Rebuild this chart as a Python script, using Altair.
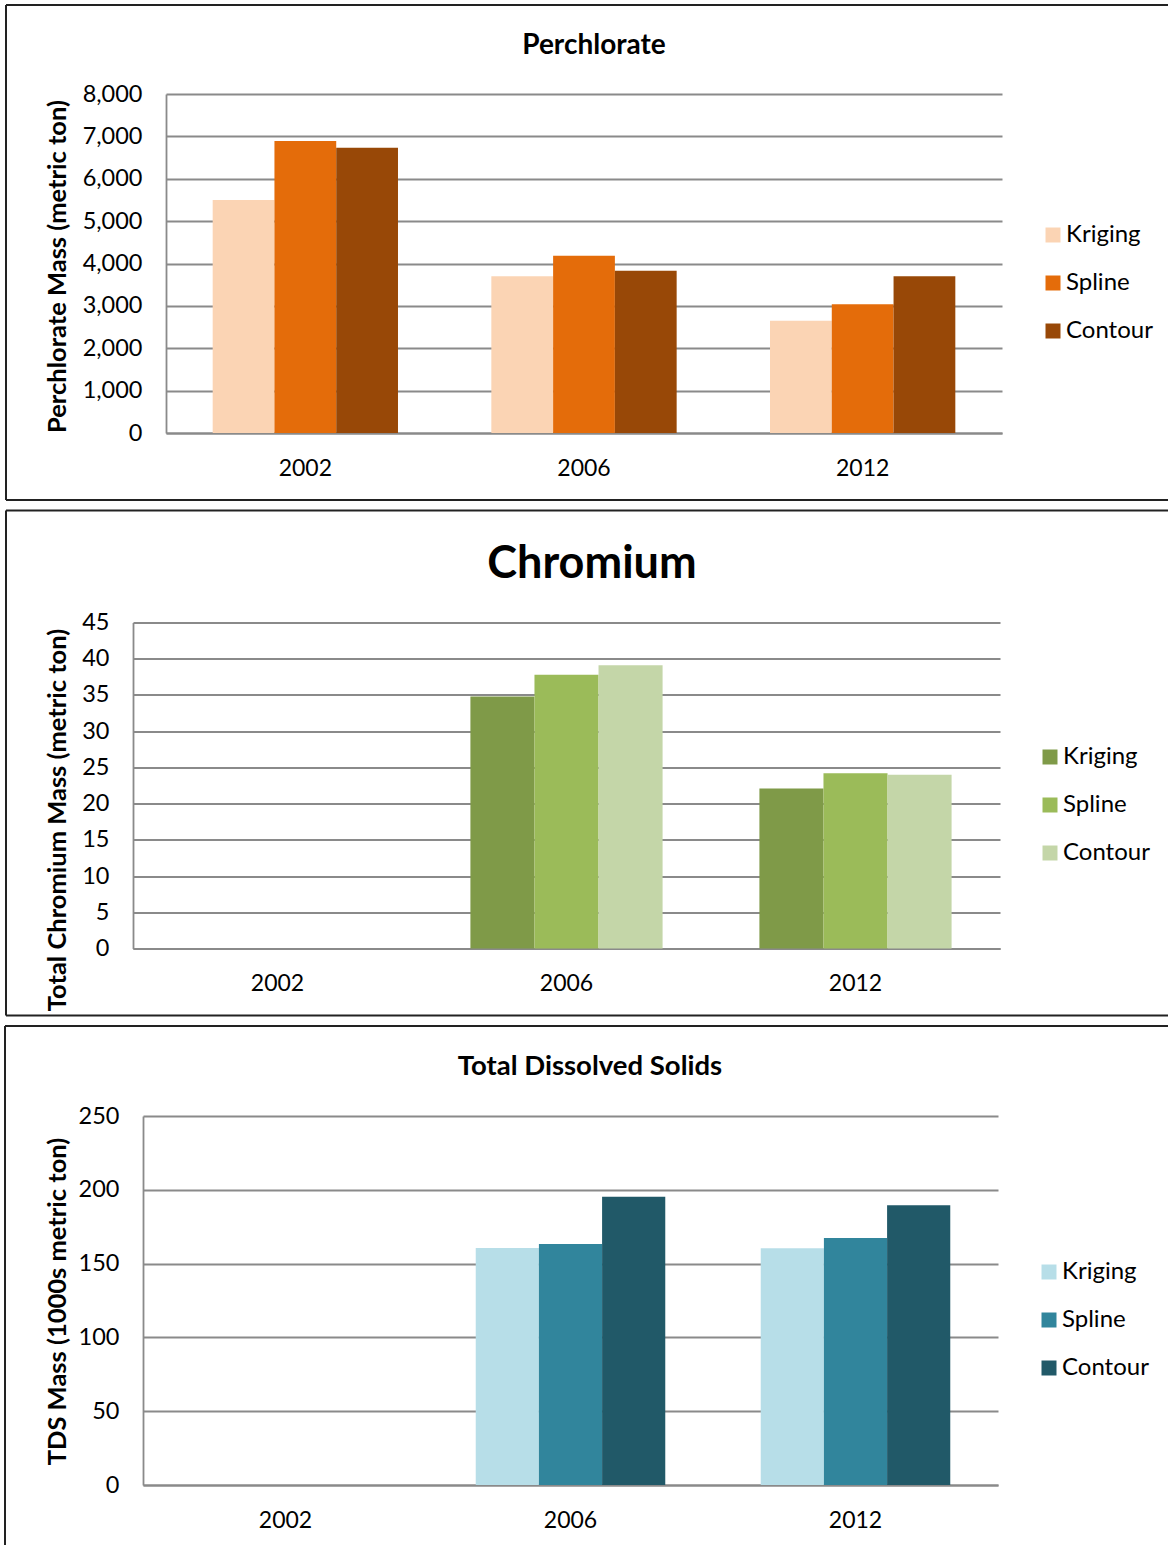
import altair as alt
import pandas as pd

# ---------------- data ----------------
years = ["2002", "2006", "2012"]
methods = ["Kriging", "Spline", "Contour"]

perchlorate_kriging = [5500, 3700, 2650]
perchlorate_spline = [6890, 4180, 3040]
perchlorate_contour = [6730, 3830, 3700]

chromium_kriging = [None, 34.8, 22.1]
chromium_spline = [None, 37.8, 24.2]
chromium_contour = [None, 39.1, 24.0]

tds_kriging = [None, 160.6, 160.4]
tds_spline = [None, 163.3, 167.3]
tds_contour = [None, 195.3, 189.5]

perchlorate_ticks = [0, 1000, 2000, 3000, 4000, 5000, 6000, 7000, 8000]
chromium_ticks = [0, 5, 10, 15, 20, 25, 30, 35, 40, 45]
tds_ticks = [0, 50, 100, 150, 200, 250]

perchlorate_colors = ["#FBD4B4", "#E46C0A", "#984807"]
chromium_colors = ["#7F9A48", "#9BBB59", "#C4D6A8"]
tds_colors = ["#B7DEE8", "#31859C", "#215968"]

panel_titles = ["Perchlorate", "Chromium", "Total Dissolved Solids"]
y_titles = [
    "Perchlorate Mass (metric ton)",
    "Total Chromium Mass (metric ton)",
    "TDS Mass (1000s metric ton)",
]

FONT = "Lato"
GRID = "#8a8a8a"
BORDER = "#222222"
X0 = 133  # common plot origin (page x) shared by the stacked panels


def one_row():
    return pd.DataFrame({"k": [0]})


def rule(x1, y1, x2, y2):
    return alt.Chart(one_row()).mark_rule(color=BORDER, strokeWidth=2).encode(
        x=alt.value(x1), x2=alt.value(x2), y=alt.value(y1), y2=alt.value(y2)
    )


def panel(series, colors, ticks, fmt, title, ytitle, g):
    rows = []
    for m, vals in zip(methods, series):
        for y, v in zip(years, vals):
            if v is not None:
                rows.append({"year": y, "method": m, "value": v})
    df = pd.DataFrame(rows)

    oy = g["top_plot"]
    pl, pr = g["plot_x"]
    shift = pl - X0

    bars = alt.Chart(df).mark_bar().encode(
        x=alt.X(
            "year:N",
            scale=alt.Scale(domain=years, range=[shift, pr - X0],
                            paddingInner=0.335, paddingOuter=0.1675),
            axis=alt.Axis(
                title=None, labelAngle=0, ticks=False, grid=False,
                domainColor=GRID, domainWidth=1.8,
                labelFont=FONT, labelFontSize=23, labelColor="black",
                labelBaseline="middle", labelPadding=35,
            ),
        ),
        xOffset=alt.XOffset(
            "method:N", scale=alt.Scale(domain=methods, paddingInner=0, paddingOuter=0)
        ),
        y=alt.Y(
            "value:Q",
            scale=alt.Scale(domain=[ticks[0], ticks[-1]], nice=False),
            axis=alt.Axis(
                values=ticks, format=fmt, title=ytitle, offset=-shift,
                titleFont=FONT, titleFontSize=25.5, titleFontWeight="bold",
                titleColor="black", titleAngle=270,
                titleX=g["ytitle"][0] - pl, titleY=g["ytitle"][1] - oy,
                titleAlign="center", titleBaseline="middle",
                labelFont=FONT, labelFontSize=23.5, labelColor="black",
                labelPadding=24, ticks=False,
                grid=True, gridColor=GRID, gridWidth=1.8,
                domainColor=GRID, domainWidth=1.8,
            ),
        ),
        color=alt.Color(
            "method:N",
            scale=alt.Scale(domain=methods, range=colors),
            legend=alt.Legend(
                title=None, orient="none",
                legendX=g["legend"][0] - X0, legendY=g["legend"][1] - oy,
                direction="vertical", symbolType="square", symbolSize=225,
                symbolStrokeWidth=0, symbolOpacity=1, labelFont=FONT, labelFontSize=24,
                labelColor="black", labelOffset=1, rowPadding=24, padding=0,
            ),
        ),
    )

    ttl = alt.Chart(pd.DataFrame({"t": [title]})).mark_text(
        font=FONT, fontSize=g["tsize"], fontWeight="bold", color="black",
        align="center", baseline="middle",
    ).encode(text="t:N", x=alt.value(g["title"][0] - X0), y=alt.value(g["title"][1] - oy))

    L, T, R = g["left"] - X0, g["top"] - oy, g["right"] - X0
    layers = [rule(L, T, R, T), ttl, bars]
    if g.get("bottom") is not None:
        B = g["bottom"] - oy
        layers.append(rule(L, T, L, B))
        layers.append(rule(L, B, R, B))
    else:
        layers.append(rule(L, T, L, g["leftend"] - oy))

    return alt.layer(*layers).properties(width=pr - X0, height=g["h"])


p1 = panel(
    [perchlorate_kriging, perchlorate_spline, perchlorate_contour],
    perchlorate_colors, perchlorate_ticks, ",d", panel_titles[0], y_titles[0],
    dict(plot_x=(166, 1002), top_plot=94, h=339, left=6, top=5, right=1168, bottom=500,
         title=(594, 46), tsize=28, legend=(1041, 223), ytitle=(57, 266)),
)
p2 = panel(
    [chromium_kriging, chromium_spline, chromium_contour],
    chromium_colors, chromium_ticks, "d", panel_titles[1], y_titles[1],
    dict(plot_x=(133, 1000), top_plot=623, h=326, left=6, top=511, right=1168, bottom=1016,
         title=(592, 564), tsize=45, legend=(1038, 745.5), ytitle=(57, 820)),
)
p3 = panel(
    [tds_kriging, tds_spline, tds_contour],
    tds_colors, tds_ticks, "d", panel_titles[2], y_titles[2],
    dict(plot_x=(143, 998), top_plot=1116, h=369, left=5, top=1026, right=1168, bottom=None,
         leftend=1545, title=(590, 1067), tsize=27.5, legend=(1037, 1260), ytitle=(57, 1301)),
)

chart = alt.concat(
    p1, p2, p3, columns=1, spacing=8.5, bounds="full"
).resolve_scale(
    x="independent", y="independent", color="independent", xOffset="independent"
).resolve_legend(color="independent").resolve_axis(x="independent", y="independent").properties(
    padding={"left": 4, "top": 4, "right": 0, "bottom": 0}
).configure_view(stroke=None)

chart.save("out.html", embed_options={"renderer": "svg", "actions": False})
